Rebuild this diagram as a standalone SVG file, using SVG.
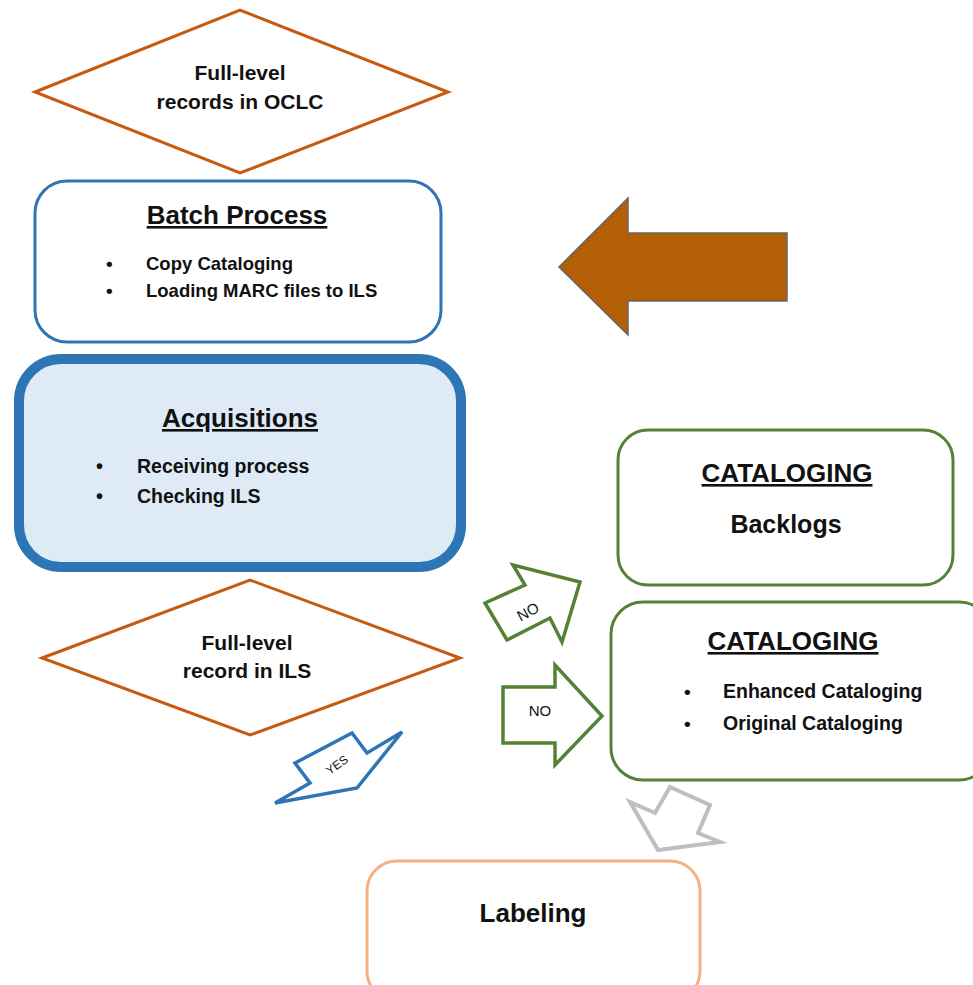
<svg xmlns="http://www.w3.org/2000/svg" width="973" height="985" viewBox="0 0 973 985">
<style>
text{font-family:"Liberation Sans",Arial,sans-serif;fill:#111;}
.b{font-weight:bold;}
.h{font-weight:bold;font-size:26px;text-decoration:underline;text-anchor:middle;}
.d{font-weight:bold;font-size:21px;text-anchor:middle;}
.dia{fill:#fff;stroke:#C55A11;stroke-width:3;}
.blue{fill:#fff;stroke:#2E75B6;stroke-width:3;}
.green{fill:#fff;stroke:#548235;stroke-width:3;}
.garr{fill:#fff;stroke:#548235;stroke-width:3.5;stroke-linejoin:miter;}
.lbl{font-size:15px;text-anchor:middle;}
</style>
<rect width="973" height="985" fill="#fff"/>

<g id="oclc">
<polygon class="dia" points="35,92 240,10 448,92 240,173"/>
<text class="d" x="240" y="80">Full-level</text>
<text class="d" x="240" y="109">records in OCLC</text>
</g>

<g id="batch">
<rect class="blue" x="35" y="181" width="406" height="161" rx="32"/>
<text class="h" x="237" y="224">Batch Process</text>
<text class="b" x="106" y="270" font-size="19">•</text>
<text class="b" x="146" y="270" font-size="18.5">Copy Cataloging</text>
<text class="b" x="106" y="297" font-size="19">•</text>
<text class="b" x="146" y="297" font-size="18.5">Loading MARC files to ILS</text>
</g>

<g id="acquisitions">
<rect x="19" y="359" width="442" height="208" rx="42" fill="#DEEBF7" stroke="#2E75B6" stroke-width="10"/>
<text class="h" x="240" y="427">Acquisitions</text>
<text class="b" x="96" y="473" font-size="20">•</text>
<text class="b" x="137" y="473" font-size="19.5">Receiving process</text>
<text class="b" x="96" y="503" font-size="20">•</text>
<text class="b" x="137" y="503" font-size="19.5">Checking ILS</text>
</g>

<g id="ils">
<polygon class="dia" points="42,658 250,580 460,658 250,735"/>
<text class="d" x="247" y="650">Full-level</text>
<text class="d" x="247" y="678">record in ILS</text>
</g>

<g id="backlogs">
<rect class="green" x="618" y="430" width="335" height="155" rx="30"/>
<text class="h" x="787" y="482">CATALOGING</text>
<text class="b" x="786" y="533" font-size="25" text-anchor="middle">Backlogs</text>
</g>

<g id="cataloging">
<rect class="green" x="611" y="602" width="380" height="178" rx="32"/>
<text class="h" x="793" y="650">CATALOGING</text>
<text class="b" x="684" y="698" font-size="19">•</text>
<text class="b" x="723" y="698" font-size="19.5">Enhanced Cataloging</text>
<text class="b" x="684" y="730" font-size="19">•</text>
<text class="b" x="723" y="730" font-size="19.5">Original Cataloging</text>
</g>

<g id="labeling">
<rect x="367" y="861" width="333" height="140" rx="30" fill="#fff" stroke="#F4B183" stroke-width="3"/>
<text class="b" x="533" y="922" font-size="26" text-anchor="middle">Labeling</text>
</g>

<g id="connectors">
<polygon points="559,267 628,198 628,233 787,233 787,301 628,301 628,335" fill="#B35F06" stroke="#666" stroke-width="1.5"/>
<polygon class="garr" points="485,603 525,585 513,565 580,582 562,642 550,618 507,640"/>
<text class="lbl" x="528" y="617" font-size="14" transform="rotate(-28 528 612)">NO</text>
<polygon class="garr" points="503,687 555,687 555,665 602,716 555,765 555,743 503,743"/>
<text class="lbl" x="540" y="716">NO</text>
<polygon points="275,803 310,783 295,763 352,733 367,753 402,732 357,788" fill="#fff" stroke="#2E75B6" stroke-width="3.5"/>
<text x="337" y="769" font-size="12" text-anchor="middle" transform="rotate(-35 337 765)">YES</text>
<polygon points="630,802 655,813 670,787 710,805 698,833 720,842 658,850" fill="#fff" stroke="#BFBFBF" stroke-width="4"/>
</g>
</svg>
